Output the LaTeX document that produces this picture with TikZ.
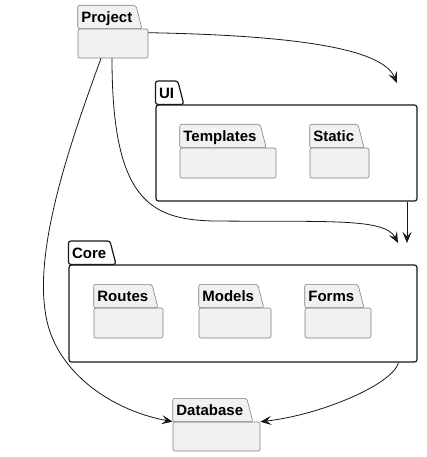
\documentclass[tikz,border=0pt]{standalone}
\usepackage{fontspec}
\setmainfont{Liberation Sans}
\usetikzlibrary{arrows.meta,calc,positioning}
\definecolor{pkgink}{HTML}{181818}
\definecolor{pkgfill}{HTML}{F1F1F1}
\definecolor{pkgedge}{HTML}{808080}
\tikzset{
  pkgbody/.style={draw=pkgedge,fill=pkgfill,line width=0.6pt,rounded corners=2pt,inner sep=0pt},
  pkgouter/.style={draw=pkgink,fill=white,line width=1.2pt,rounded corners=2.5pt,inner sep=0pt},
  pkglabel/.style={anchor=south west,inner xsep=3.5pt,inner ysep=0pt,minimum height=23pt,
    text height=10.8pt,text depth=0pt,font=\fontsize{15}{17}\selectfont\bfseries},
  deparrow/.style={draw=pkgink,line width=0.8pt,-{Stealth[length=11pt,width=9pt,inset=4.5pt]}},
}
\newcommand{\pkgtab}[3]{%
  \path (#1.north west) node[pkglabel] (#1tab) {\phantom{#2}};
  \filldraw[#3] (#1.north west) -- (#1tab.north west) -- (#1tab.north east)
    -- ($(#1tab.south east)+(6,0)$) -- cycle
    (#1tab.center) node[pkglabel,anchor=center] {#2};
}

\begin{document}
\begin{tikzpicture}[x=1pt,y=-1pt]
  \useasboundingbox (0,0) rectangle (426,457);
  % outer packages
  \foreach \n/\x/\y/\w/\h in {ui/286.5/153/261/96,core/243/313.5/348/97}
    {\node[pkgouter,minimum width=\w pt,minimum height=\h pt] (\n) at (\x,\y) {};}
  \pkgtab{ui}{UI}{pkgouter}
  \pkgtab{core}{Core}{pkgouter}
  % plain packages
  \foreach \n/\x/\y/\w/\h in {templates/228/163/96/30,static/339.5/163/59/30,
      routes/128.5/323/69/30,models/235/323/72/30,forms/338/323/66/30,
      project/113/43.5/70/29,database/216.5/436.5/87/29}
    {\node[pkgbody,minimum width=\w pt,minimum height=\h pt] (\n) at (\x,\y) {};}
  \foreach \n/\t in {templates/Templates,static/Static,routes/Routes,models/Models,
      forms/Forms,project/Project,database/Database}
    {\pkgtab{\n}{\t}{pkgbody}}
  % free arrow ends at the cluster edges
  \coordinate (uiin) at (397,83);
  \coordinate (corein) at (398,243);
  \coordinate (coreup) at (407,243);
  % dependencies
  \draw[deparrow] ($(project.north east)+(0,4)$) .. controls (330,36) and (385,55) .. (uiin);
  \draw[deparrow] ($(project.south)+(-1,0)$) .. controls (112,200) and (150,220) .. (215,221)
    .. controls (330,222) and (385,218) .. (corein);
  \draw[deparrow] (ui.south -| coreup) -- (coreup);
  \draw[deparrow] ($(project.south)+(-12,0)$) .. controls (75,130) and (35,240) .. (45,310)
    .. controls (52,370) and (110,410) .. (database.north west);
  \draw[deparrow] ($(core.south east)+(-19,0)$) .. controls (392,385) and (320,415) .. (database.north east);
\end{tikzpicture}
\end{document}
